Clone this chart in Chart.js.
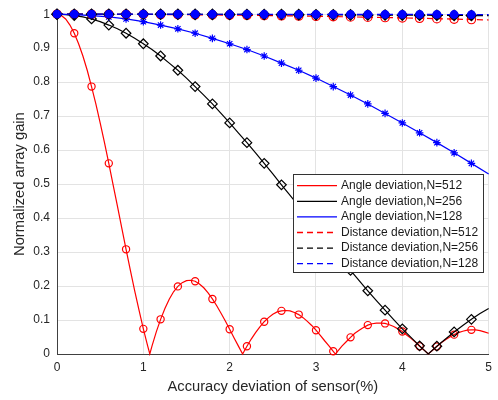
<!DOCTYPE html>
<html><head><meta charset="utf-8">
<script src="https://cdn.jsdelivr.net/npm/chart.js@4"></script>
<style>html,body{margin:0;padding:0;background:#fff;overflow:hidden;}</style>
</head><body>
<canvas id="c" width="498" height="400"></canvas>
<script>
// ---- data ----
const seriesLabels = [
  'Angle deviation,N=512','Angle deviation,N=256','Angle deviation,N=128',
  'Distance deviation,N=512','Distance deviation,N=256','Distance deviation,N=128'
];
const xTitle = 'Accuracy deviation of sensor(%)';
const yTitle = 'Normalized array gain';

const xAngle512 = [0,0.05,0.1,0.15,0.2,0.25,0.3,0.35,0.4,0.45,0.5,0.55,0.6,0.65,0.7,0.75,0.8,0.85,0.9,0.95,1.0,1.05,1.075,
  1.1,1.15,1.2,1.25,1.3,1.35,1.4,1.45,1.5,1.55,1.6,1.65,1.7,1.75,1.8,1.85,1.9,1.95,2.0,2.05,2.1,2.15,
  2.2,2.25,2.3,2.35,2.4,2.45,2.5,2.55,2.6,2.65,2.7,2.75,2.8,2.85,2.9,2.95,3.0,3.05,3.1,3.15,3.2,3.225,
  3.25,3.3,3.35,3.4,3.45,3.5,3.55,3.6,3.65,3.7,3.75,3.8,3.85,3.9,3.95,4.0,4.05,4.1,4.15,4.2,4.25,4.3,
  4.35,4.4,4.45,4.5,4.55,4.6,4.65,4.7,4.75,4.8,4.85,4.9,4.95,5.0];
const yAngle512 = [1,0.996,0.986,0.968,0.944,0.913,0.877,0.835,0.787,0.736,0.680,0.622,0.561,0.498,0.435,0.371,0.308,0.246,0.186,0.129,0.074,0.024,0,
  0.023,0.065,0.102,0.134,0.161,0.183,0.199,0.210,0.216,0.217,0.214,0.206,0.195,0.180,0.162,0.142,0.120,0.097,0.073,0.048,0.024,0,
  0.023,0.044,0.063,0.080,0.095,0.107,0.117,0.124,0.127,0.128,0.127,0.122,0.116,0.107,0.096,0.084,0.070,0.055,0.039,0.024,0.008,0,
  0.008,0.023,0.036,0.049,0.061,0.070,0.078,0.085,0.089,0.091,0.091,0.090,0.086,0.081,0.074,0.066,0.056,0.046,0.035,0.023,0.012,0,
  0.011,0.022,0.033,0.042,0.050,0.057,0.063,0.067,0.070,0.071,0.071,0.069,0.065,0.061];

const xAngle256 = [0,0.1,0.2,0.3,0.4,0.5,0.6,0.7,0.8,0.9,1.0,1.1,1.2,1.3,1.4,1.5,1.6,1.7,1.8,1.9,2.0,
  2.1,2.2,2.3,2.4,2.5,2.6,2.7,2.8,2.9,3.0,3.1,3.2,3.3,3.4,3.5,3.6,3.7,3.8,3.9,4.0,4.1,4.2,4.3,4.4,4.5,4.6,4.7,4.8,4.9,5.0];
const yAngle256 = [1,0.999,0.996,0.992,0.986,0.978,0.968,0.957,0.944,0.929,0.913,0.896,0.877,0.856,0.835,0.812,0.787,0.762,0.736,0.708,0.680,
  0.651,0.622,0.592,0.561,0.530,0.498,0.467,0.435,0.403,0.371,0.339,0.308,0.277,0.246,0.216,0.186,0.157,0.129,0.101,0.074,0.049,0.024,0,0.023,0.044,0.065,0.084,0.102,0.119,0.134];

const xAngle128 = [0,0.2,0.4,0.6,0.8,1.0,1.2,1.4,1.6,1.8,2.0,2.2,2.4,2.6,2.8,3.0,3.2,3.4,3.6,3.8,4.0,4.2,4.4,4.6,4.8,5.0];
const yAngle128 = [1,0.999,0.996,0.992,0.986,0.978,0.968,0.957,0.944,0.929,0.913,0.896,0.877,0.856,0.835,0.812,0.787,0.762,0.736,0.708,0.680,0.651,0.622,0.592,0.561,0.530];

const xDistance = [0,0.2,0.4,0.6,0.8,1.0,1.2,1.4,1.6,1.8,2.0,2.2,2.4,2.6,2.8,3.0,3.2,3.4,3.6,3.8,4.0,4.2,4.4,4.6,4.8,5.0];
const yDistance512 = [1,1.000,0.9999,0.9998,0.9996,0.9993,0.999,0.9987,0.9983,0.9978,0.9973,0.9967,0.9961,0.9954,0.9947,0.9939,0.993,0.9921,0.9912,0.9902,0.9891,0.988,0.9868,0.9856,0.9843,0.983];
const yDistance256 = [1,1,1,0.9999,0.9999,0.9998,0.9998,0.9997,0.9996,0.9994,0.9993,0.9992,0.999,0.9989,0.9987,0.9985,0.9983,0.998,0.9978,0.9975,0.9973,0.997,0.9967,0.9964,0.9961,0.9958];
const yDistance128 = [1,1,1,1,1,1,1,0.9999,0.9999,0.9999,0.9998,0.9998,0.9998,0.9997,0.9997,0.9996,0.9996,0.9995,0.9995,0.9994,0.9993,0.9993,0.9992,0.9991,0.999,0.999];

// ---- helpers ----
function pts(xs, ys){ return xs.map((x,i)=>({x:x, y:ys[i]})); }
const isMarkerX = x => x < 4.9 && Math.abs(x*5 - Math.round(x*5)) < 1e-6;
const mk = r => (c) => (c.raw && isMarkerX(c.raw.x)) ? r : 0;
const FONT = '"Liberation Sans", Arial, Helvetica, sans-serif';

function ds(label, xs, ys, color, dash, style, r, fill, order){
  return {
    label: label, data: pts(xs, ys), borderColor: color, borderWidth: 1.2,
    borderDash: dash, pointStyle: style, pointRadius: mk(r), pointHoverRadius: mk(r),
    pointBorderColor: color, pointBackgroundColor: fill, pointBorderWidth: 1.2,
    tension: 0, clip: false, order: order, fill: false
  };
}

const legendPlugin = {
  id: 'boxLegend',
  afterDraw(chart){
    const ctx = chart.ctx;
    const L = 293, T = 174, W = 190, H = 98;
    ctx.save();
    ctx.fillStyle = '#fff'; ctx.fillRect(L, T, W, H);
    ctx.strokeStyle = '#333'; ctx.lineWidth = 1; ctx.setLineDash([]);
    ctx.strokeRect(L + 0.5, T + 0.5, W, H);
    ctx.font = '12px ' + FONT;
    ctx.textBaseline = 'middle';
    chart.data.datasets.forEach((d, i) => {
      const y = 185.7 + 15.6 * i;
      ctx.beginPath();
      ctx.setLineDash(d.borderDash || []);
      ctx.strokeStyle = d.borderColor; ctx.lineWidth = 1.3;
      ctx.moveTo(297, y); ctx.lineTo(337, y); ctx.stroke();
      ctx.setLineDash([]);
      ctx.fillStyle = '#1a1a1a';
      ctx.fillText(d.label, 341, y);
    });
    ctx.restore();
  }
};

new Chart(document.getElementById('c'), {
  type: 'line',
  data: {
    datasets: [
      ds(seriesLabels[0], xAngle512, yAngle512, '#ff0000', [], 'circle', 3.6, 'rgba(0,0,0,0)', 5),
      ds(seriesLabels[1], xAngle256, yAngle256, '#000000', [], 'rectRot', 4.8, 'rgba(0,0,0,0)', 4),
      ds(seriesLabels[2], xAngle128, yAngle128, '#0000ff', [], 'star', 3.8, 'rgba(0,0,0,0)', 3),
      ds(seriesLabels[3], xDistance, yDistance512, '#ff0000', [6,4], 'circle', 4.2, 'rgba(0,0,0,0)', 2),
      ds(seriesLabels[4], xDistance, yDistance256, '#000000', [6,4], 'rectRot', 5.2, '#000000', 1),
      ds(seriesLabels[5], xDistance, yDistance128, '#0000ff', [6,4], 'circle', 3.8, '#0000ff', 0)
    ]
  },
  options: {
    responsive: false, animation: false, events: [],
    layout: { padding: { top: 9, right: 4, bottom: 0, left: 0 } },
    plugins: { legend: { display: false }, tooltip: { enabled: false } },
    scales: {
      x: {
        type: 'linear', min: 0, max: 5,
        ticks: { stepSize: 1, padding: 6, color: '#262626', font: { family: FONT, size: 12 },
                 callback: v => String(Math.round(v)) },
        grid: { color: '#e3e3e3', lineWidth: 1, drawTicks: false },
        border: { color: '#404040', width: 1 },
        title: { display: true, text: xTitle, color: '#262626', font: { family: FONT, size: 14.7 },
                 padding: { top: 0, bottom: 4 } },
        afterFit: s => { s.height = 46; }
      },
      y: {
        min: 0, max: 1,
        ticks: { stepSize: 0.1, padding: 7, color: '#262626', font: { family: FONT, size: 12 },
                 callback: v => String(Math.round(v * 10) / 10) },
        grid: { color: '#e3e3e3', lineWidth: 1, drawTicks: false },
        border: { color: '#404040', width: 1 },
        title: { display: true, text: yTitle, color: '#262626', font: { family: FONT, size: 14.7 },
                 padding: { top: 10.8, bottom: 0 } },
        afterFit: s => { s.width = 57; }
      }
    }
  },
  plugins: [legendPlugin]
});
</script>
</body></html>
